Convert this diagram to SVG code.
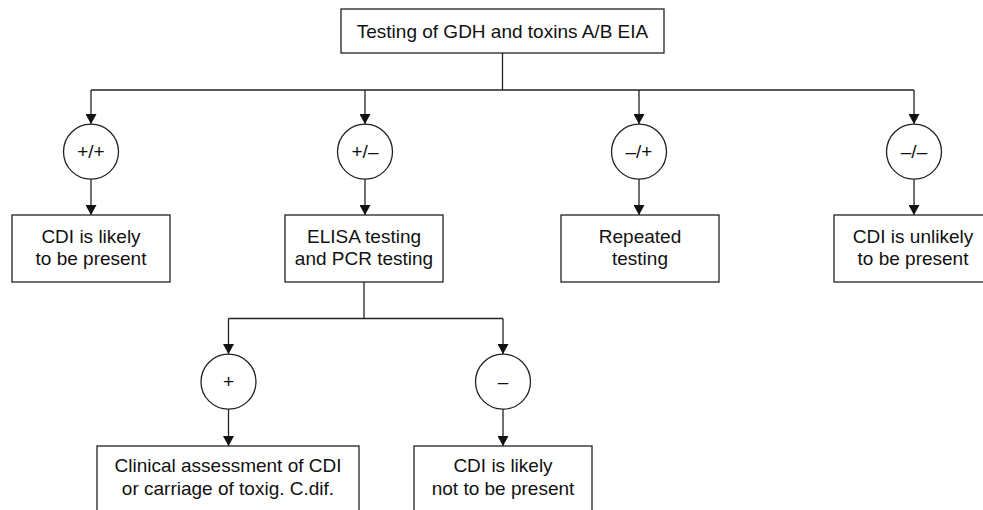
<svg xmlns="http://www.w3.org/2000/svg" width="983" height="510" viewBox="0 0 983 510">
<style>
  .box { fill: #fff; stroke: #222; stroke-width: 1.3; }
  .circ { fill: #fff; stroke: #222; stroke-width: 1.3; }
  .t { font-family: "Liberation Sans", Arial, sans-serif; font-size: 19px; fill: #111; text-anchor: middle; }
  .c { fill: none; stroke: #222; stroke-width: 1.3; }
</style>
<defs>
  <marker id="arr" viewBox="0 0 10 11" refX="10" refY="5.5" markerWidth="10" markerHeight="11" markerUnits="userSpaceOnUse" orient="auto">
    <path d="M0,0 L10,5.5 L0,11 z" fill="#111"/>
  </marker>
</defs>
<rect width="983" height="510" fill="#fff"/>
<g id="connectors">
  <path class="c" d="M502.5,53 V90"/>
  <path class="c" d="M91,90 H914"/>
  <path class="c" d="M91,90 V124" marker-end="url(#arr)"/>
  <path class="c" d="M365,90 V124" marker-end="url(#arr)"/>
  <path class="c" d="M639,90 V124" marker-end="url(#arr)"/>
  <path class="c" d="M914,90 V124" marker-end="url(#arr)"/>
  <path class="c" d="M91,179 V215" marker-end="url(#arr)"/>
  <path class="c" d="M365,179 V215" marker-end="url(#arr)"/>
  <path class="c" d="M639,179 V215" marker-end="url(#arr)"/>
  <path class="c" d="M914,179 V215" marker-end="url(#arr)"/>
  <path class="c" d="M364,282 V318.5"/>
  <path class="c" d="M228.5,318.5 H503"/>
  <path class="c" d="M228.5,318.5 V354" marker-end="url(#arr)"/>
  <path class="c" d="M503,318.5 V354" marker-end="url(#arr)"/>
  <path class="c" d="M228.5,409 V446" marker-end="url(#arr)"/>
  <path class="c" d="M503,409 V446" marker-end="url(#arr)"/>
</g>
<g id="n-top">
  <rect class="box" x="341" y="9" width="323" height="44"/>
  <text class="t" x="502.5" y="37.5">Testing of GDH and toxins A/B EIA</text>
</g>
<g id="c-pp">
  <circle class="circ" cx="91" cy="151.7" r="27.5"/>
  <text class="t" x="91" y="158">+/+</text>
</g>
<g id="c-pm">
  <circle class="circ" cx="365" cy="151.7" r="27.5"/>
  <text class="t" x="365" y="158">+/–</text>
</g>
<g id="c-mp">
  <circle class="circ" cx="639" cy="151.7" r="27.5"/>
  <text class="t" x="639" y="158">–/+</text>
</g>
<g id="c-mm">
  <circle class="circ" cx="914" cy="151.7" r="27.5"/>
  <text class="t" x="914" y="158">–/–</text>
</g>
<g id="n-likely">
  <rect class="box" x="12" y="215" width="158" height="67"/>
  <text class="t" x="91" y="243">CDI is likely</text>
  <text class="t" x="91" y="265">to be present</text>
</g>
<g id="n-elisa">
  <rect class="box" x="285" y="215" width="158" height="67"/>
  <text class="t" x="364" y="243">ELISA testing</text>
  <text class="t" x="364" y="265">and PCR testing</text>
</g>
<g id="n-repeat">
  <rect class="box" x="561" y="215" width="158" height="67"/>
  <text class="t" x="640" y="243">Repeated</text>
  <text class="t" x="640" y="265">testing</text>
</g>
<g id="n-unlikely">
  <rect class="box" x="834" y="215" width="158" height="67"/>
  <text class="t" x="913" y="243">CDI is unlikely</text>
  <text class="t" x="913" y="265">to be present</text>
</g>
<g id="c-plus">
  <circle class="circ" cx="228.5" cy="381.7" r="27.5"/>
  <text class="t" x="228.5" y="388">+</text>
</g>
<g id="c-minus">
  <circle class="circ" cx="503" cy="381.7" r="27.5"/>
  <text class="t" x="503" y="388">–</text>
</g>
<g id="n-clinical">
  <rect class="box" x="97" y="446" width="262" height="80"/>
  <text class="t" x="228" y="472">Clinical assessment of CDI</text>
  <text class="t" x="228" y="495">or carriage of toxig. C.dif.</text>
</g>
<g id="n-notpresent">
  <rect class="box" x="414" y="446" width="178" height="80"/>
  <text class="t" x="503" y="472">CDI is likely</text>
  <text class="t" x="503" y="495">not to be present</text>
</g>
</svg>
